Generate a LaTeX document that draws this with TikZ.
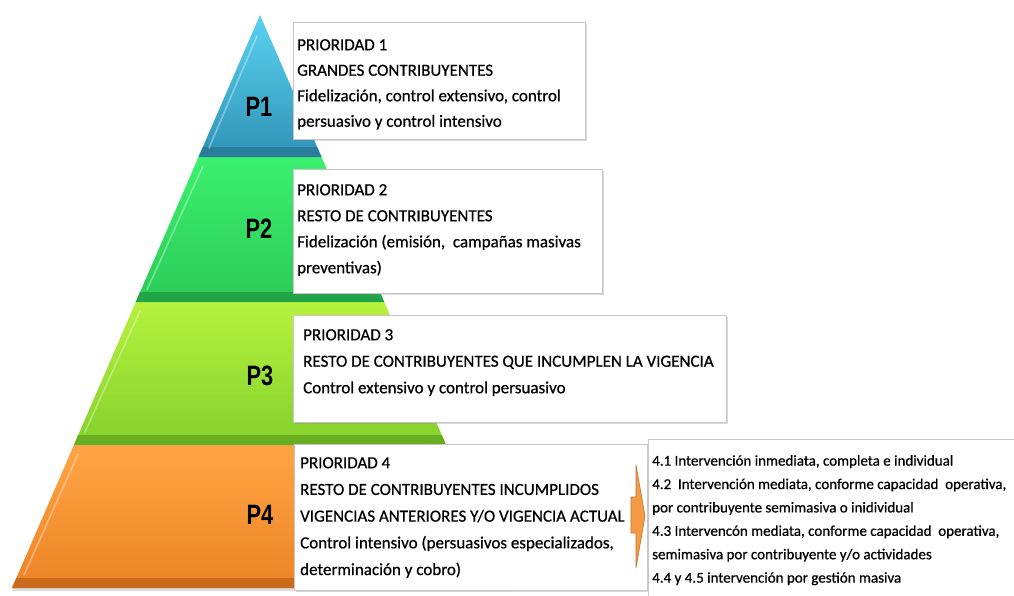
\documentclass[tikz,border=0pt]{standalone}
\usepackage{fontspec}
\setmainfont{Carlito}
\newfontfamily\boxfont[FakeBold=0.6]{Carlito}
\newfontfamily\plabelfont[FakeStretch=0.78]{Liberation Sans}
\usepackage{tikz}
\usetikzlibrary{positioning,shadows}

\definecolor{ponetop}{HTML}{5AD2F2}
\definecolor{ponebot}{HTML}{2F93B6}
\definecolor{ponedark}{HTML}{2A7C9C}
\definecolor{ptwotop}{HTML}{3CF06E}
\definecolor{ptwobot}{HTML}{2BCB58}
\definecolor{ptwodark}{HTML}{22A548}
\definecolor{pthreetop}{HTML}{B6F23E}
\definecolor{pthreebot}{HTML}{84D02C}
\definecolor{pthreedark}{HTML}{67AE22}
\definecolor{pfourtop}{HTML}{FFA445}
\definecolor{pfourbot}{HTML}{EC8426}
\definecolor{pfourdark}{HTML}{CB6A1A}
\definecolor{arrowfill}{HTML}{F49A46}
\definecolor{arrowline}{HTML}{C4732C}

\tikzset{
  infobox/.style={draw=black!22, line width=0.9pt, fill=white, inner sep=0pt,
    anchor=north west,
    drop shadow={shadow xshift=1.3pt, shadow yshift=-1.3pt, opacity=0.3, fill=black!50}},
  infotext/.style={inner sep=0pt, align=left,
    font=\boxfont\fontsize{17}{25.5}\selectfont},
  subtext/.style={inner sep=0pt, align=left,
    font=\boxfont\fontsize{15}{23.4}\selectfont},
  plabel/.style={font=\plabelfont\bfseries\fontsize{28}{28}\selectfont},
  bevel/.style={draw=white, line width=1.6pt, opacity=0.35, line cap=round},
}

\begin{document}
\begin{tikzpicture}[x=1pt, y=-1pt]
  \useasboundingbox (0,0) rectangle (1014,595);

  % pyramid layers
  \shade[top color=ponetop, bottom color=ponebot] (260,15) -- (321.5,157) -- (198.5,157) -- cycle;
  \shade[top color=ptwotop, bottom color=ptwobot] (198.5,157) -- (321.5,157) -- (384.2,302) -- (135.8,302) -- cycle;
  \shade[top color=pthreetop, bottom color=pthreebot] (135.8,302) -- (384.2,302) -- (446.1,445) -- (73.9,445) -- cycle;
  \shade[top color=pfourtop, bottom color=pfourbot, drop shadow={shadow xshift=0pt, shadow yshift=-3pt, opacity=0.25}]
    (73.9,445) -- (446.1,445) -- (508,588) -- (12,588) -- cycle;

  % darker bottom bands
  \fill[ponedark] (202.9,147) -- (317.1,147) -- (321.5,157) -- (198.5,157) -- cycle;
  \fill[ptwodark] (140.1,292) -- (379.9,292) -- (384.2,302) -- (135.8,302) -- cycle;
  \fill[pthreedark] (78.2,435) -- (441.8,435) -- (446.1,445) -- (73.9,445) -- cycle;
  \fill[pfourdark] (16.3,578) -- (503.7,578) -- (508,588) -- (12,588) -- cycle;

  % highlights
  \draw[bevel] (257,36) -- (209,148);
  \draw[bevel] (203,166) -- (147,290);
  \draw[bevel] (140,311) -- (85,432);
  \draw[bevel] (78,454) -- (24,575);

  % level labels
  \node[plabel] (p1) at (259,107) {P1};
  \node[plabel] (p2) at (259,229) {P2};
  \node[plabel] (p3) at (260,376) {P3};
  \node[plabel] (p4) at (260,515) {P4};

  % boxes
  \node[infobox, minimum width=292pt, minimum height=117pt] (box1) at (293,22) {};
  \node[infobox, minimum width=309pt, minimum height=124pt] (box2) at (293,169) {};
  \node[infobox, minimum width=433pt, minimum height=107pt] (box3) at (293,315) {};
  \node[infobox, minimum width=353pt, minimum height=146pt] (box4) at (294,444) {};
  \node[infobox, minimum width=400pt, minimum height=200pt] (box5) at (648,439) {};

  \node[infotext, below right=17pt and 4pt of box1.north west] (txt1)
    {PRIORIDAD 1\\GRANDES CONTRIBUYENTES\\Fidelización, control extensivo, control\\persuasivo y control intensivo};
  \node[infotext, below right=15pt and 4pt of box2.north west, font=\boxfont\fontsize{17}{26}\selectfont] (txt2)
    {PRIORIDAD 2\\RESTO DE CONTRIBUYENTES\\Fidelización (emisión,~ campañas masivas\\preventivas)};
  \node[infotext, below right=14pt and 10pt of box3.north west, font=\boxfont\fontsize{17}{26.5}\selectfont] (txt3)
    {PRIORIDAD 3\\RESTO DE CONTRIBUYENTES QUE INCUMPLEN LA VIGENCIA\\Control extensivo y control persuasivo};
  \node[infotext, below right=13pt and 6pt of box4.north west, font=\boxfont\fontsize{17}{26.7}\selectfont] (txt4)
    {PRIORIDAD 4\\RESTO DE CONTRIBUYENTES INCUMPLIDOS\\VIGENCIAS ANTERIORES Y/O VIGENCIA ACTUAL\\Control intensivo (persuasivos especializados,\\determinación y cobro)};
  \node[subtext, below right=16pt and 4pt of box5.north west] (txt5)
    {4.1 Intervención inmediata, completa e individual\\4.2~ Intervención mediata, conforme capacidad~ operativa,\\por contribuyente semimasiva o inidividual\\4.3 Intervencón mediata, conforme capacidad~ operativa,\\semimasiva por contribuyente y/o actividades\\4.4 y 4.5 intervención por gestión masiva};

  % arrow towards the sub list
  \filldraw[fill=arrowfill, draw=arrowline, line width=0.6pt]
    (631,497) -- (636,497) -- (636,465) -- (645,516) -- (636,568) -- (636,533) -- (631,533) -- cycle;
\end{tikzpicture}
\end{document}
